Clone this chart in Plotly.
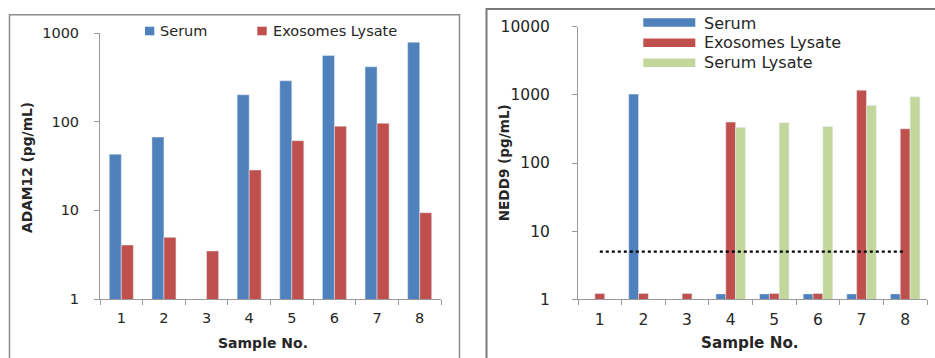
import plotly.graph_objects as go

W, H = 935, 358

samples = ["1", "2", "3", "4", "5", "6", "7", "8"]

# Left chart: ADAM12
adam12_serum = [43, 67, None, 201, 289, 559, 416, 789]
adam12_exo = [4.06, 4.96, 3.48, 28.5, 61, 89, 96, 9.4]

# Right chart: NEDD9
nedd9_serum = [None, 1025, None, 1.2, 1.2, 1.2, 1.2, 1.2]
nedd9_exo = [1.22, 1.22, 1.22, 398, 1.22, 1.22, 1172, 318]
nedd9_serum_lysate = [None, None, None, 333, 389, 344, 700, 935]
detection_limit = 5

left_ticks = [1, 10, 100, 1000]
right_ticks = [1, 10, 100, 1000, 10000]

BLUE = "#4F81BD"
RED = "#C0504D"
GREEN = "#C3D69B"
AXIS = "#9a9a9a"
TXT = "#262626"
FONT = "DejaVu Sans"


def px(x):
    return x / W


def py(y):
    return 1 - y / H


fig = go.Figure()

# left bars
wl = 0.282
fig.add_trace(go.Bar(x=samples, y=adam12_serum, name="Serum", marker_color=BLUE,
                     width=wl, offset=-wl, xaxis="x", yaxis="y", showlegend=False))
fig.add_trace(go.Bar(x=samples, y=adam12_exo, name="Exosomes Lysate", marker_color=RED,
                     width=wl, offset=0, xaxis="x", yaxis="y", showlegend=False))

# right bars
wr = 0.225
fig.add_trace(go.Bar(x=samples, y=nedd9_serum, name="Serum", marker_color=BLUE,
                     width=wr, offset=-1.5 * wr, xaxis="x2", yaxis="y2", showlegend=False))
fig.add_trace(go.Bar(x=samples, y=nedd9_exo, name="Exosomes Lysate", marker_color=RED,
                     width=wr, offset=-0.5 * wr, xaxis="x2", yaxis="y2", showlegend=False))
fig.add_trace(go.Bar(x=samples, y=nedd9_serum_lysate, name="Serum Lysate", marker_color=GREEN,
                     width=wr, offset=0.5 * wr, xaxis="x2", yaxis="y2", showlegend=False))
fig.add_trace(go.Scatter(x=samples, y=[detection_limit] * len(samples), mode="lines",
                         line=dict(color="black", width=2.2, dash="dot"),
                         xaxis="x2", yaxis="y2", showlegend=False, hoverinfo="skip"))

xcommon = dict(type="category", showline=True, linecolor=AXIS, linewidth=1,
               ticks="outside", tickson="boundaries", ticklen=5, tickcolor=AXIS,
               showgrid=False, zeroline=False, range=[-0.5, 7.5],
               ticklabelstandoff=6, automargin=False)
ycommon = dict(type="log", showline=True, linecolor=AXIS, linewidth=1,
               ticks="outside", ticklen=5, tickcolor=AXIS, showgrid=False,
               zeroline=False, ticklabelstandoff=12, automargin=False)

fig.update_layout(
    width=W, height=H, autosize=False,
    margin=dict(l=0, r=0, t=0, b=0, pad=0, autoexpand=False),
    paper_bgcolor="white", plot_bgcolor="white",
    barmode="overlay",
    showlegend=False,
    font=dict(family=FONT, color=TXT),
    xaxis=dict(xcommon, domain=[px(100), px(441)], anchor="y",
               tickfont=dict(family=FONT, size=14.5, color=TXT)),
    yaxis=dict(ycommon, domain=[py(299), py(33)], anchor="x", range=[0, 3],
               tickvals=left_ticks, ticktext=[str(v) for v in left_ticks],
               tickfont=dict(family=FONT, size=14.5, color=TXT)),
    xaxis2=dict(xcommon, domain=[px(578), px(927)], anchor="y2",
                tickfont=dict(family=FONT, size=15.5, color=TXT)),
    yaxis2=dict(ycommon, domain=[py(299.3), py(26.7)], anchor="x2", range=[0, 4],
                tickvals=right_ticks, ticktext=[str(v) for v in right_ticks],
                ticklabelstandoff=19,
                tickfont=dict(family=FONT, size=15.5, color=TXT)),
)

shapes = []
# panel borders
shapes.append(dict(type="rect", xref="paper", yref="paper",
                   x0=px(9.5), x1=px(459.5), y0=py(380), y1=py(14.7),
                   line=dict(color="#8c8c8c", width=1.5), layer="below"))
shapes.append(dict(type="rect", xref="paper", yref="paper",
                   x0=px(486.5), x1=px(960), y0=py(380), y1=py(9),
                   line=dict(color="#7a7a7a", width=2), layer="below"))

# left legend keys
shapes.append(dict(type="rect", xref="paper", yref="paper", x0=px(145), x1=px(154.3),
                   y0=py(35.3), y1=py(26.7), fillcolor=BLUE, line=dict(width=0)))
shapes.append(dict(type="rect", xref="paper", yref="paper", x0=px(257.3), x1=px(266.7),
                   y0=py(35.3), y1=py(26.7), fillcolor=RED, line=dict(width=0)))
# right legend keys
for yc, col in [(22.5, BLUE), (42.7, RED), (62.7, GREEN)]:
    shapes.append(dict(type="rect", xref="paper", yref="paper", x0=px(643.3), x1=px(695.3),
                       y0=py(yc + 4.3), y1=py(yc - 4.3), fillcolor=col, line=dict(width=0)))

annotations = []


def ann(text, x, y, size, xanchor="left", bold=False, angle=0):
    annotations.append(dict(text=f"<b>{text}</b>" if bold else text, x=px(x), y=py(y),
                            xref="paper", yref="paper", showarrow=False,
                            xanchor=xanchor, yanchor="middle", textangle=angle,
                            font=dict(family=FONT, size=size, color=TXT)))


ann("Serum", 158.3, 31, 14.5)
ann("Exosomes Lysate", 271, 31, 14.5)
ann("Serum", 701.7, 23, 16)
ann("Exosomes Lysate", 701.7, 42.7, 16)
ann("Serum Lysate", 701.7, 62.7, 16)

ann("ADAM12 (pg/mL)", 27.5, 167.5, 13.8, xanchor="center", bold=True, angle=-90)
ann("NEDD9 (pg/mL)", 504, 163.3, 13.6, xanchor="center", bold=True, angle=-90)
ann("Sample No.", 262.5, 343.3, 14, xanchor="center", bold=True)
ann("Sample No.", 750, 343.3, 15.2, xanchor="center", bold=True)

fig.update_layout(shapes=shapes, annotations=annotations)

fig.write_html(
    "out.html",
    config={"displayModeBar": False},
    post_script="document.body.style.margin='0';document.body.style.padding='0';"
                "document.body.style.overflow='hidden';",
)
